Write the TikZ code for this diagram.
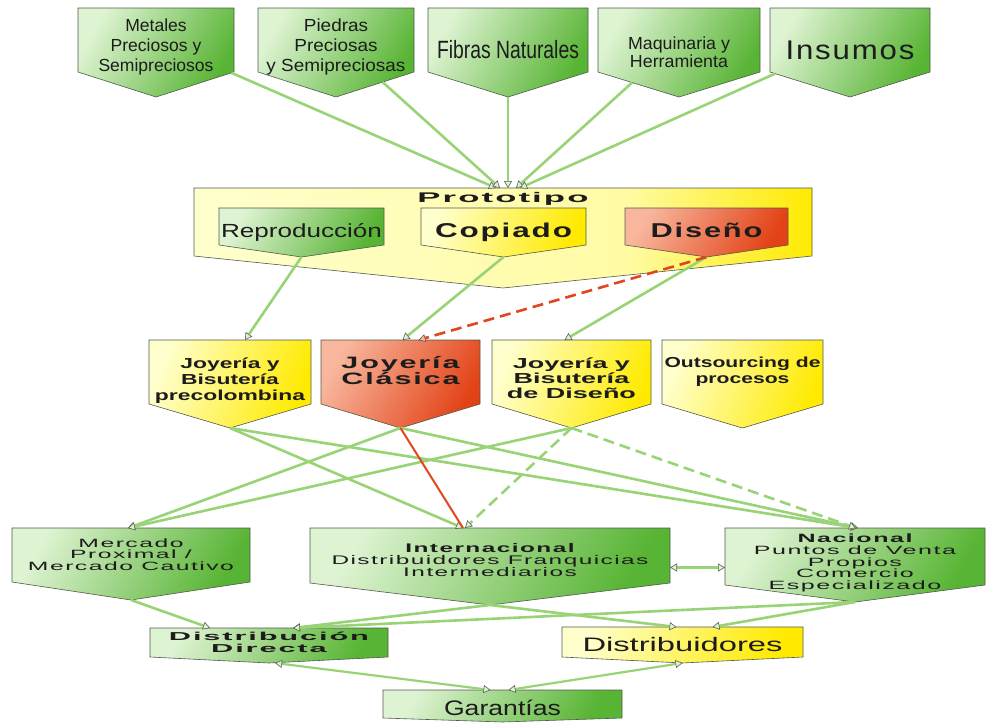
\documentclass[tikz,border=0pt]{standalone}
\usepackage{fontspec}
\setmainfont{Liberation Sans}
\newfontfamily\widefont[LetterSpace=6]{Liberation Sans}
\usepackage{graphicx}
\usetikzlibrary{shapes.symbols,arrows.meta}
\definecolor{gL}{RGB}{222,243,210}
\definecolor{gD}{RGB}{88,180,52}
\definecolor{yL}{RGB}{255,255,205}
\definecolor{yD}{RGB}{255,234,0}
\definecolor{rL}{RGB}{248,182,156}
\definecolor{rD}{RGB}{226,66,22}
\definecolor{lnG}{RGB}{152,212,118}
\definecolor{lnR}{RGB}{226,70,28}
\definecolor{bdr}{RGB}{80,90,76}
\definecolor{tipC}{RGB}{88,98,84}
\definecolor{txt}{RGB}{28,28,28}
\pgfdeclarehorizontalshading{protosh}{100bp}{color(0bp)=(yL); color(25bp)=(yL); color(60bp)=(yL!80!yD); color(75bp)=(yD); color(100bp)=(yD)}
% #1 box width, #2 font size, #3 baselineskip, #4 text width, #5 font, #6 lines
\newcommand\ntext[6]{\makebox[#1pt][c]{\fontsize{#2}{#3}\selectfont#5\resizebox{#4pt}{\height}{\begin{tabular}[t]{@{}c@{}}#6\end{tabular}}}}
\tikzset{
  pent/.code n args={4}{% width, body height, pointer depth, first baseline
    \pgfmathsetmacro\pentang{2*atan(#1/(2*#3))}%
    \pgfmathsetmacro\pentdp{#2-#4}%
    \edef\pentnext{\noexpand\pgfkeysalso{shape=signal,signal to=south,signal from=nowhere,
      inner sep=0pt,outer sep=0pt,minimum width=0pt,minimum height=0pt,
      text height=#4pt,text depth=\pentdp pt,signal pointer angle=\pentang,
      anchor=north,draw=bdr,line width=0.6pt,text=txt}}%
    \pentnext},
  gfill/.style={left color=gL,right color=gD,shading angle=60},
  yfill/.style={left color=yL,right color=yD,shading angle=70},
  rfill/.style={left color=rL,right color=rD,shading angle=60},
  pfill/.style={shading=protosh},
  conn/.style={draw=lnG,line width=2.6pt,
    -{Triangle[length=7pt,width=8pt,line width=0.6pt,color=tipC,fill=gL]}},
  dconn/.style={draw=lnG,line width=2.2pt,
    {Triangle[length=7pt,width=8pt,line width=0.6pt,color=tipC,fill=gL]}-{Triangle[length=7pt,width=8pt,line width=0.6pt,color=tipC,fill=gL]}},
  gdash/.style={conn,dash pattern=on 11pt off 6pt},
  rdash/.style={draw=lnR,line width=2.6pt,dash pattern=on 11pt off 6pt,
    -{Triangle[length=7pt,width=8pt,line width=0.6pt,color=tipC,fill=rL]}},
  rsolid/.style={draw=lnR,line width=2pt},
}
\begin{document}
\begin{tikzpicture}[x=1pt,y=-1pt]
\useasboundingbox[fill=white] (0,0) rectangle (986,724);
% top row
\node[pent={156}{64}{25}{23},gfill] (metales) at (156,8) {\ntext{156}{17.5}{20}{115}{}{Metales\\Preciosos y\\Semipreciosos}};
\node[pent={156}{64}{25}{23},gfill] (piedras) at (336,8) {\ntext{156}{17.5}{20}{139}{}{Piedras\\Preciosas\\y Semipreciosas}};
\node[pent={160}{64}{25}{50},gfill] (fibras) at (508,8) {\ntext{160}{25}{28}{142}{}{Fibras Naturales}};
\node[pent={162}{64}{25}{41},gfill] (maq) at (679,8) {\ntext{162}{17.5}{18}{102}{}{Maquinaria y\\Herramienta}};
\node[pent={160}{64}{25}{51},gfill] (insumos) at (850,8) {\ntext{160}{27}{30}{129}{\widefont}{Insumos}};
% prototipo
\node[pent={618}{68}{32}{14},pfill] (proto) at (503,188) {\ntext{618}{14}{16}{171}{\widefont\bfseries}{Prototipo}};
\node[pent={165}{37}{12}{29},gfill] (repro) at (301.5,208) {\ntext{165}{19}{21}{161}{}{Reproducción}};
\node[pent={165}{37}{12}{29},yfill] (copiado) at (503.5,208) {\ntext{165}{20}{22}{137}{\widefont\bfseries}{Copiado}};
\node[pent={163}{37}{12}{29},rfill] (diseno) at (706.5,208) {\ntext{163}{20}{22}{112}{\widefont\bfseries}{Diseño}};
% middle row
\node[pent={162}{64}{24}{28},yfill] (precol) at (230,340) {\ntext{162}{14.5}{16}{150}{\bfseries}{Joyería y\\Bisutería\\precolombina}};
\node[pent={159}{64}{24}{28},rfill] (clasica) at (400.5,340) {\ntext{159}{16.5}{16}{118}{\widefont\bfseries}{Joyería\\Clásica}};
\node[pent={159}{64}{24}{28},yfill] (jdiseno) at (571.5,340) {\ntext{159}{14.5}{15}{129}{\bfseries}{Joyería y\\Bisutería\\de Diseño}};
\node[pent={161}{64}{24}{27},yfill] (outs) at (742.5,340) {\ntext{161}{14.5}{16}{156}{\bfseries}{Outsourcing de\\procesos}};
% bottom row
\node[pent={238}{54}{18}{19},gfill] (merc) at (131,528) {\ntext{238}{12}{10.5}{206}{\widefont}{Mercado\\Proximal /\\Mercado Cautivo}};
\node[pent={360}{55}{22}{24},gfill] (intl) at (490,528) {\ntext{360}{12.5}{11}{317}{\widefont}{\bfseries Internacional\\Distribuidores Franquicias\\Intermediarios}};
\node[pent={260}{57}{17}{14},gfill] (nac) at (855,528) {\ntext{260}{12}{11}{202}{\widefont}{\bfseries Nacional\\Puntos de Venta\\Propios\\Comercio\\Especializado}};
\node[pent={238}{29}{6}{12},gfill] (dd) at (269,628) {\ntext{238}{11.5}{12}{200}{\widefont\bfseries}{Distribución\\Directa}};
\node[pent={241}{30}{6}{24},yfill] (distr) at (682.5,627) {\ntext{241}{19.5}{21}{200}{}{Distribuidores}};
\node[pent={239}{28}{4}{25},gfill] (gar) at (502.5,690) {\ntext{239}{21}{23}{117}{}{Garantías}};
% connectors: top row to Prototipo
\draw[conn] (metales) -- ([xshift=-7]proto.north);
\draw[conn] (piedras) -- ([xshift=-3]proto.north);
\draw[conn] (fibras.south) -- (fibras.south |- proto.north);
\draw[conn] (maq) -- ([xshift=13]proto.north);
\draw[conn] (insumos) -- ([xshift=17]proto.north);
% Prototipo to middle row
\draw[conn] (repro.south) -- ([xshift=15]precol.north);
\draw[conn] (copiado.south) -- ([xshift=2]clasica.north);
\draw[conn] (diseno.south) -- ([xshift=-7]jdiseno.north);
\draw[rdash] (diseno.south) -- ([xshift=18]clasica.north);
% middle row to bottom row
\draw[conn] (precol.south) -- ([xshift=-27]intl.north);
\draw[conn] (precol.south) -- ([xshift=3]nac.north);
\draw[conn] (clasica.south) -- ([xshift=-3]merc.north);
\draw[conn] (clasica.south) -- ([xshift=3]nac.north);
\draw[conn] (jdiseno.south) -- ([xshift=-3]merc.north);
\draw[gdash] (jdiseno.south) -- ([xshift=-25]intl.north);
\draw[gdash] (jdiseno.south) -- ([xshift=1]nac.north);
\draw[rsolid] (clasica.south) -- ([xshift=-27]intl.north);
% bottom row to distribution
\draw[conn] (merc.south) -- ([xshift=-59]dd.north);
\draw[conn] (intl.south) -- ([xshift=24]dd.north);
\draw[conn] (nac.south) -- ([xshift=24]dd.north);
\draw[conn] (intl.south) -- ([xshift=-6]distr.north);
\draw[conn] (nac.south) -- ([xshift=30]distr.north);
\coordinate (ie) at ([yshift=-12]intl.east);
\draw[dconn] (ie) -- (ie -| nac.west);
\draw[dconn] ([xshift=6]dd.south) -- ([xshift=-12]gar.north);
\draw[dconn] (distr.south) -- ([xshift=6]gar.north);
\end{tikzpicture}
\end{document}
